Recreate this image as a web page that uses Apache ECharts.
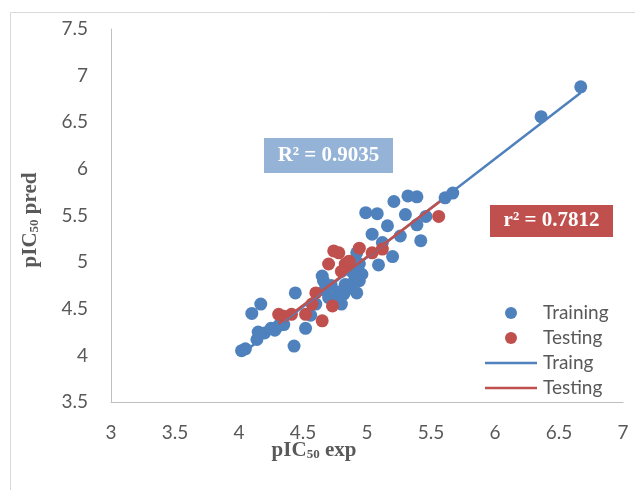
<!DOCTYPE html>
<html>
<head>
<meta charset="utf-8">
<script src="https://cdn.jsdelivr.net/npm/echarts@6/dist/echarts.min.js"></script>
<style>html,body{margin:0;padding:0;background:#fff}#c{width:635px;height:490px}</style>
</head>
<body>
<div id="c"></div>
<script>
// Training set (pIC50 exp, pIC50 pred)
const trainExp  = [4.02,4.05,4.10,4.17,4.14,4.15,4.20,4.25,4.28,4.31,4.35,4.43,4.44,4.52,4.56,4.60,4.65,4.66,4.67,4.70,4.72,4.75,4.78,4.80,4.82,4.83,4.86,4.88,4.90,4.92,4.94,4.96,4.94,4.92,5.09,5.20,5.04,5.12,5.16,5.26,5.30,4.99,5.08,5.21,5.32,5.39,5.42,5.39,5.46,5.61,5.67,6.36,6.67];
const trainPred = [4.05,4.07,4.45,4.55,4.17,4.25,4.24,4.29,4.27,4.32,4.33,4.10,4.67,4.29,4.43,4.55,4.85,4.80,4.70,4.62,4.75,4.62,4.68,4.55,4.66,4.76,4.72,4.90,4.80,4.67,4.80,4.87,4.98,5.10,4.97,5.06,5.30,5.21,5.39,5.28,5.51,5.53,5.52,5.65,5.71,5.70,5.23,5.40,5.49,5.69,5.74,6.56,6.88];
// Testing set
const testExp  = [4.31,4.35,4.41,4.52,4.57,4.60,4.65,4.73,4.74,4.70,4.78,4.83,4.86,4.80,4.94,5.04,5.12,5.56];
const testPred = [4.44,4.42,4.44,4.44,4.55,4.67,4.37,4.53,5.12,4.98,5.10,4.98,5.01,4.90,5.15,5.10,5.14,5.49];
// Trendline endpoints
const trainFitX = [4.02, 6.67];
const trainFitY = [4.015, 6.817];
const testFitX  = [4.31, 5.57];
const testFitY  = [4.34, 5.65];
// Axis ticks
const xMin = 3, xMax = 7, yMin = 3.5, yMax = 7.5, step = 0.5;
const r2Train = 'R² = 0.9035';
const r2Test = 'r² = 0.7812';
const legendNames = ['Training','Testing','Traing','Testing '];

const pair = (a,b) => a.map((v,i)=>[v,b[i]]);
const BLUE = '#4f81bd', RED = '#c0504d', GRAY = '#595959';
const sans = 'Lato';
const serif = '"Liberation Serif","DejaVu Serif",serif';
const lineIcon = 'path://M0,0 M0,4.8 L52,4.8 L52,7.2 L0,7.2 Z M52,12';

const chart = echarts.init(document.getElementById('c'), null, {renderer:'canvas'});
chart.setOption({
  animation:false,
  backgroundColor:'#fff',
  grid:{left:111, right:12, top:29, bottom:88, containLabel:false},
  xAxis:{type:'value', min:xMin, max:xMax, interval:step,
    axisLine:{show:true, onZero:false, lineStyle:{color:'#bfbfbf', width:1}},
    axisTick:{show:false}, splitLine:{show:false},
    axisLabel:{color:GRAY, fontFamily:sans, fontSize:19, margin:21}},
  yAxis:{type:'value', min:yMin, max:yMax, interval:step,
    axisLine:{show:true, onZero:false, lineStyle:{color:'#bfbfbf', width:1}},
    axisTick:{show:false}, splitLine:{show:false},
    axisLabel:{color:GRAY, fontFamily:sans, fontSize:19, margin:23}},
  legend:{
    left:485, top:303, orient:'vertical', itemWidth:52, itemHeight:12, itemGap:5, padding:0,
    textStyle:{color:GRAY, fontFamily:sans, fontSize:19, lineHeight:20, padding:[0,0,0,1]},
    data:[{name:legendNames[0], icon:'circle'},{name:legendNames[1], icon:'circle'},
          {name:legendNames[2], icon:lineIcon},{name:legendNames[3], icon:lineIcon}]
  },
  series:[
    {name:legendNames[0], type:'scatter', data:pair(trainExp,trainPred), symbolSize:13, itemStyle:{color:BLUE, opacity:1}},
    {name:legendNames[1], type:'scatter', data:pair(testExp,testPred), symbolSize:13, itemStyle:{color:RED, opacity:1}},
    {name:legendNames[2], type:'line', data:pair(trainFitX,trainFitY), symbol:'none', lineStyle:{color:BLUE, width:2.5}, itemStyle:{color:BLUE}},
    {name:legendNames[3], type:'line', data:pair(testFitX,testFitY), symbol:'none', lineStyle:{color:RED, width:2.5}, itemStyle:{color:RED}}
  ],
  graphic:[
    {type:'rect', silent:true, z:-10, shape:{x:10.5, y:12.5, width:700, height:600}, style:{fill:null, stroke:'#d9d9d9', lineWidth:1}},
    {type:'rect', shape:{x:264, y:138, width:129, height:35}, style:{fill:'#95b3d7'}},
    {type:'text', x:328.5, y:155.5, style:{text:r2Train, fill:'#fff', font:'bold 21px '+serif, align:'center', verticalAlign:'middle'}},
    {type:'rect', shape:{x:490, y:205, width:123, height:32}, style:{fill:RED}},
    {type:'text', x:551.5, y:221, style:{text:r2Test, fill:'#fff', font:'bold 21px '+serif, align:'center', verticalAlign:'middle'}},
    {type:'text', x:314, y:451, style:{
      text:'{a|pIC}{s|50}{a| exp}', align:'center', verticalAlign:'middle',
      rich:{a:{fontFamily:serif, fontWeight:'bold', fontSize:21, fill:GRAY, color:GRAY, verticalAlign:'bottom'},
            s:{fontFamily:serif, fontWeight:'bold', fontSize:13, fill:GRAY, color:GRAY, padding:[8,0,0,0]}}}},
    {type:'text', x:31, y:220, rotation:Math.PI/2, style:{
      text:'{a|pIC}{s|50}{a| pred}', align:'center', verticalAlign:'middle',
      rich:{a:{fontFamily:serif, fontWeight:'bold', fontSize:21, fill:GRAY, color:GRAY},
            s:{fontFamily:serif, fontWeight:'bold', fontSize:13, fill:GRAY, color:GRAY, padding:[8,0,0,0]}}}}
  ]
});
</script>
</body>
</html>
